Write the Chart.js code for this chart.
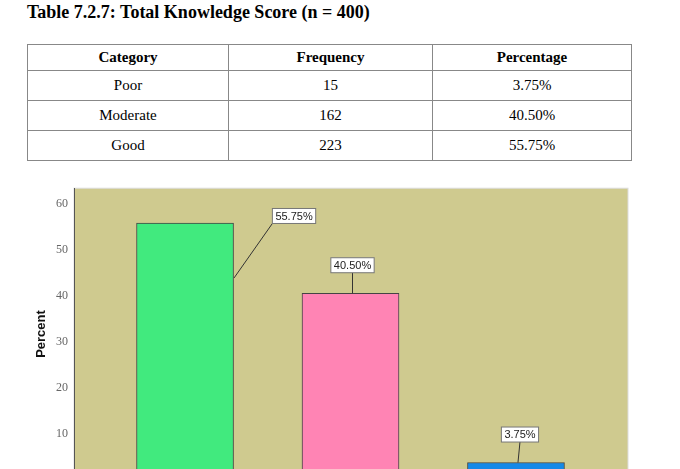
<!DOCTYPE html>
<html><head><meta charset="utf-8">
<script src="https://cdn.jsdelivr.net/npm/chart.js@4"></script>
<style>
html,body{margin:0;padding:0;width:680px;height:469px;overflow:hidden;background:#fff;font-family:"Liberation Serif","Times New Roman",serif;}
h1{position:absolute;left:27px;top:2px;margin:0;font-size:18px;font-weight:bold;}
table{position:absolute;left:27px;top:44px;width:605px;border-collapse:collapse;font-size:15px;}
td,th{border:1px solid #888;text-align:center;height:29px;padding:0;}
th{font-weight:bold;height:25px;}
#wrap{position:absolute;left:0;top:175px;width:680px;height:318px;}
</style></head><body>
<h1>Table 7.2.7: Total Knowledge Score (n = 400)</h1>
<table>
<tr><th style="width:200px">Category</th><th style="width:203px">Frequency</th><th>Percentage</th></tr>
<tr><td>Poor</td><td>15</td><td>3.75%</td></tr>
<tr><td>Moderate</td><td>162</td><td>40.50%</td></tr>
<tr><td>Good</td><td>223</td><td>55.75%</td></tr>
</table>
<div id="wrap"><canvas id="c"></canvas></div>
<script>
const categories = ["Good","Moderate","Poor"];
const percents = [55.75, 40.50, 3.75];
const barColors = ["#41ea7e","#ff84b4","#1589e8"];
const tickValues = [10,20,30,40,50,60];

const bgPlugin = {id:'bg', beforeDraw(ch){const a=ch.chartArea,c=ch.ctx;c.save();c.fillStyle='#cfca8f';c.fillRect(a.left,a.top,a.right-a.left,a.bottom-a.top);c.strokeStyle='#ddd';c.strokeRect(a.left,a.top,a.right-a.left,a.bottom-a.top);c.restore();}};
const labelPlugin = {id:'lbl', afterDatasetsDraw(ch){
  const c=ch.ctx, meta=ch.getDatasetMeta(0);
  const offs=[{dx:109,dy:-7,ax:49,ay:55},{dx:2,dy:-28,ax:2,ay:0},{dx:4,dy:-28,ax:2,ay:0}];
  c.save(); c.font='11px "Liberation Sans", Arial, sans-serif'; c.textAlign='center'; c.textBaseline='middle';
  meta.data.forEach((b,i)=>{
    const txt=percents[i].toFixed(2)+'%';
    const o=offs[i], bx=b.x+o.dx, by=b.y+o.dy;
    const w=c.measureText(txt).width+6, h=15;
    c.strokeStyle='#333'; c.lineWidth=1;
    c.beginPath(); c.moveTo(b.x+o.ax, b.y+o.ay); c.lineTo(i==0?bx-w/2:bx, by+h/2); c.stroke();
    c.fillStyle='#fff'; c.fillRect(bx-w/2,by-h/2,w,h); c.strokeStyle='#777'; c.strokeRect(bx-w/2,by-h/2,w,h);
    c.fillStyle='#222'; c.fillText(txt,bx,by+0.5);
  }); c.restore();
}};
new Chart(document.getElementById('c'),{
  type:'bar',
  data:{datasets:[{data:categories.map((k,i)=>({x:i+1,y:percents[i]})),backgroundColor:barColors,borderColor:'#444',borderWidth:1,borderSkipped:false,barThickness:97}]},
  options:{responsive:true,maintainAspectRatio:false,animation:false,
    layout:{padding:{top:3,right:52,bottom:0,left:30}},
    plugins:{legend:{display:false},tooltip:{enabled:false}},
    scales:{
      x:{type:'linear',offset:false,min:0.329,max:3.677,display:false},
      y:{min:0,max:63.3,afterBuildTicks(s){s.ticks=tickValues.map(v=>({value:v}));},
         afterFit(s){s.width=44;},
         grid:{display:false,drawTicks:false},border:{color:'#555'},
         ticks:{color:'#666',font:{family:'"Liberation Serif", serif',size:12},padding:6},
         title:{display:true,text:'Percent',color:'#111',font:{family:'"Liberation Sans", Arial, sans-serif',size:13,weight:'bold'},padding:{bottom:2}}}
    }},
  plugins:[bgPlugin,labelPlugin]
});
</script></body></html>
